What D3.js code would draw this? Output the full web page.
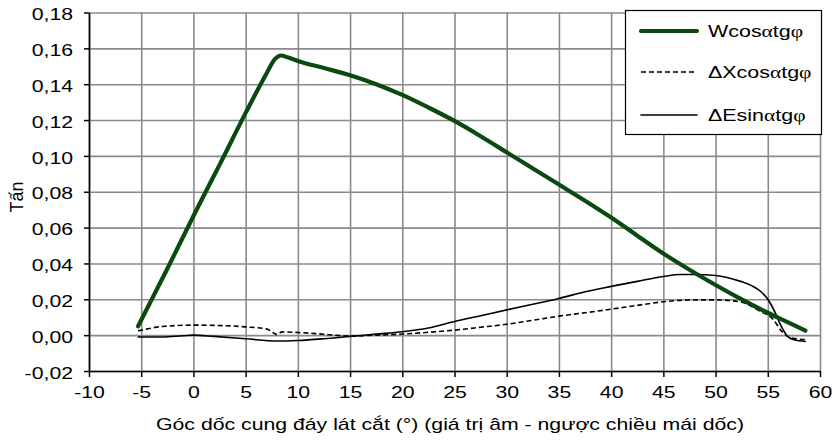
<!DOCTYPE html>
<html>
<head>
<meta charset="utf-8">
<script src="https://cdn.jsdelivr.net/npm/d3@7"></script>
<style>
  body { margin: 0; background: #fff; }
  svg { display: block; font-family: "Liberation Sans", Arial, sans-serif; }
</style>
</head>
<body>
<svg id="chart" width="835" height="443"></svg>
<script>
// goc doc (x) va cac thanh phan luc (Tan)
const wAngle = [-5.3, -2.5, 0, 2.5, 5, 7, 7.8, 8.4, 9, 10, 12.5, 15, 17.5, 20, 22.5, 25, 27.5, 30, 32.5, 35, 37.5, 40, 42.5, 45, 47.5, 50, 52.5, 55, 57, 58.6];
const wValue = [0.005, 0.037, 0.0665, 0.095, 0.124, 0.146, 0.154, 0.156, 0.155, 0.153, 0.149, 0.145, 0.140, 0.134, 0.127, 0.1195, 0.111, 0.102, 0.093, 0.084, 0.075, 0.0656, 0.0555, 0.0455, 0.0365, 0.028, 0.020, 0.0125, 0.007, 0.0025];

const xAngle = [-5.3, -3, 0, 3, 5, 7, 7.6, 8, 8.5, 10, 12.5, 15, 17.5, 20, 22.5, 25, 27.5, 30, 32.5, 35, 37.5, 40, 42.5, 45, 47.5, 50, 52.4, 54.2, 55.5, 56.3, 57.1, 58.6];
const xValue = [0.0024, 0.0048, 0.0056, 0.0053, 0.0046, 0.0035, 0.0015, 0.0003, 0.0018, 0.0015, 0.0005, -0.0005, 0.0, 0.0006, 0.0016, 0.0028, 0.0044, 0.0061, 0.0083, 0.0106, 0.0125, 0.0145, 0.0166, 0.0186, 0.0196, 0.0197, 0.0185, 0.0135, 0.0089, 0.0024, -0.0013, -0.0025];

const eAngle = [-5.3, -3, -1, 0, 2, 5, 8, 10, 12.5, 15, 17.5, 20, 22.5, 25, 27.5, 30, 32.5, 35, 37.5, 40, 42.5, 45, 46.6, 48, 50, 52.4, 53.5, 54.3, 55, 55.7, 56.2, 56.8, 57.5, 58.6];
const eValue = [-0.001, -0.001, -0.0003, 0, -0.0007, -0.002, -0.0033, -0.003, -0.002, -0.0007, 0.0006, 0.0019, 0.004, 0.0076, 0.0108, 0.0141, 0.0172, 0.0205, 0.0242, 0.0272, 0.030, 0.0327, 0.0338, 0.0338, 0.0333, 0.030, 0.0275, 0.0245, 0.020, 0.0127, 0.006, 0.0, -0.0026, -0.0035];

const xTicks = d3.range(-10, 61, 5);
const yTicks = d3.range(-0.02, 0.181, 0.02);

const seriesNames = [["W", "cos", "α", "tg", "φ"], ["ΔX", "cos", "α", "tg", "φ"], ["ΔE", "sin", "α", "tg", "φ"]];

const svg = d3.select("#chart");
const mLeft = 89, mRight = 820, mTop = 12.5, mBottom = 371;
const sx = 1.25; // chu bi gian ngang nhu hinh goc

const x = d3.scaleLinear().domain([-10, 60]).range([mLeft, mRight]);
const y = d3.scaleLinear().domain([-0.02, 0.18]).range([mBottom, mTop]);

const vn = d3.formatLocale({ decimal: ",", thousands: ".", grouping: [3], currency: ["", ""], minus: "-" });
const fmtY = vn.format(".2f");
const fmtX = vn.format("d");

// luoi
svg.append("g").attr("transform", `translate(0,${mBottom})`)
  .call(d3.axisBottom(x).tickValues(xTicks).tickSize(-(mBottom - mTop)).tickFormat(""))
  .call(g => g.select(".domain").remove())
  .selectAll("line").attr("stroke", "#8a8a8a").attr("stroke-width", 1.6);
svg.append("g").attr("transform", `translate(${mLeft},0)`)
  .call(d3.axisLeft(y).tickValues(yTicks).tickSize(-(mRight - mLeft)).tickFormat(""))
  .call(g => g.select(".domain").remove())
  .selectAll("line").attr("stroke", "#8a8a8a").attr("stroke-width", 1.6);

// duong
const series = [
  { xs: wAngle, ys: wValue, color: "#0a4a10", width: 4.2, dash: null },
  { xs: xAngle, ys: xValue, color: "#000", width: 1.6, dash: "5,3" },
  { xs: eAngle, ys: eValue, color: "#000", width: 1.6, dash: null }
];
const line = d3.line().x(d => x(d[0])).y(d => y(d[1])).curve(d3.curveMonotoneX);
[series[2], series[1], series[0]].forEach(s => {
  svg.append("path")
    .attr("d", line(d3.zip(s.xs, s.ys)))
    .attr("fill", "none").attr("stroke", s.color).attr("stroke-width", s.width)
    .attr("stroke-dasharray", s.dash).attr("stroke-linejoin", "round").attr("stroke-linecap", s.dash ? "butt" : "round");
});

// truc
const xAxis = svg.append("g").attr("transform", `translate(0,${mBottom})`)
  .call(d3.axisBottom(x).tickValues(xTicks).tickSize(6).tickSizeOuter(0).tickFormat(fmtX));
xAxis.selectAll("text").attr("y", 27).attr("dy", 0).attr("transform", `scale(${sx},1)`);
const yAxis = svg.append("g").attr("transform", `translate(${mLeft},0)`)
  .call(d3.axisLeft(y).tickValues(yTicks).tickSize(5).tickSizeOuter(0).tickFormat(fmtY));
yAxis.selectAll("text").attr("x", -16 / sx).attr("dy", "0.42em").attr("transform", `scale(${sx},1)`);
[xAxis, yAxis].forEach(g => {
  g.selectAll("text").attr("fill", "#000").style("font-size", "17px").style("font-family", "'Liberation Sans', Arial, sans-serif");
  g.selectAll("line").attr("stroke", "#000").attr("stroke-width", 1.5);
  g.select(".domain").attr("stroke", "#000").attr("stroke-width", 1.6);
});

// tieu de
svg.append("text").attr("transform", `translate(450,430) scale(${sx},1)`)
  .attr("text-anchor", "middle").style("font-size", "17px")
  .text("Góc dốc cung đáy lát cắt (°) (giá trị âm - ngược chiều mái dốc)");
svg.append("text").attr("transform", "translate(23,197) rotate(-90)")
  .attr("text-anchor", "middle").style("font-size", "18px").text("Tấn");

// chu giai
const lg = svg.append("g");
lg.append("rect").attr("x", 625.5).attr("y", 10.5).attr("width", 196).attr("height", 124)
  .attr("fill", "#fff").attr("stroke", "#000").attr("stroke-width", 1.2);
const rowY = [31, 72, 115];
series.forEach((s, i) => {
  lg.append("line").attr("x1", 641).attr("x2", 697).attr("y1", rowY[i]).attr("y2", rowY[i])
    .attr("stroke", s.color).attr("stroke-width", s.width).attr("stroke-dasharray", s.dash)
    .attr("stroke-linecap", s.dash ? "butt" : "round");
  const t = lg.append("text").attr("transform", `translate(708,${rowY[i] + 6}) scale(1.3,1)`).style("font-size", "16.5px");
  seriesNames[i].forEach(part => {
    const greek = part === "α" || part === "φ";
    t.append("tspan").text(part).style("font-family", greek ? "'Liberation Serif', serif" : null);
  });
});
</script>
</body>
</html>
